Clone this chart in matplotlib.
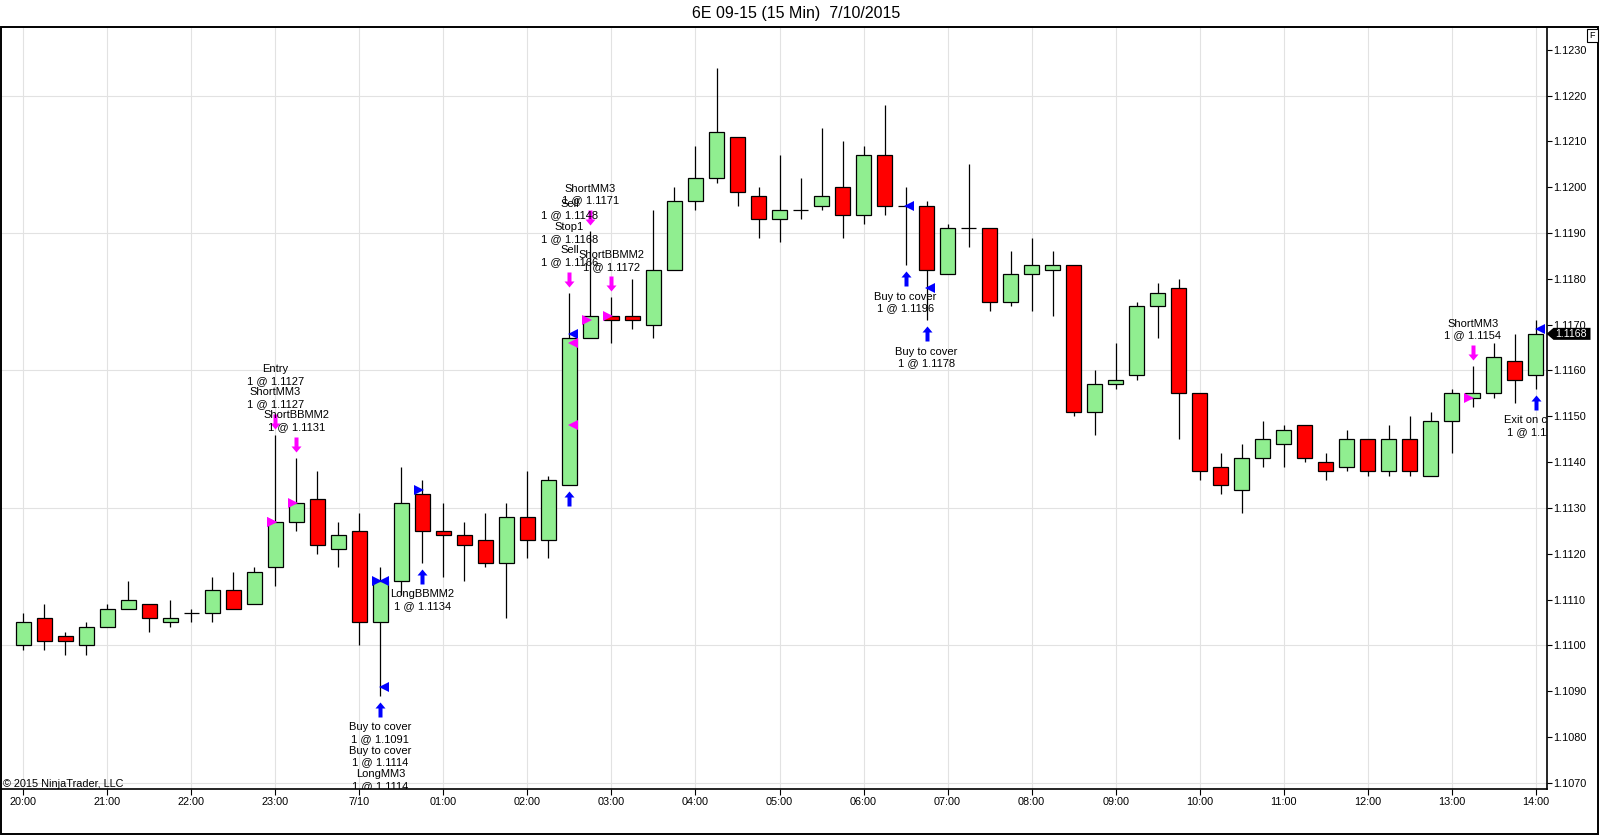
import numpy as np
import pandas as pd
import matplotlib
matplotlib.use('Agg')
import matplotlib.pyplot as plt
from matplotlib.markers import MarkerStyle
from matplotlib.path import Path
from matplotlib.patches import Rectangle, Polygon
from matplotlib import transforms as mtransforms

plt.rcParams['font.family'] = ['Liberation Sans', 'DejaVu Sans']

TITLE = '6E 09-15 (15 Min)  7/10/2015'

# 15 min bars, 7/9 20:00 .. 7/10 14:00
opens = [1.1100, 1.1106, 1.1102, 1.1100, 1.1104, 1.1108, 1.1109, 1.1105, 1.1107, 1.1107,
         1.1112, 1.1109, 1.1117, 1.1127, 1.1132, 1.1121, 1.1125, 1.1105, 1.1114, 1.1133,
         1.1125, 1.1124, 1.1123, 1.1118, 1.1128, 1.1123, 1.1135, 1.1167, 1.1172, 1.1172,
         1.1170, 1.1182, 1.1197, 1.1202, 1.1211, 1.1198, 1.1193, 1.1195, 1.1196, 1.1200,
         1.1194, 1.1207, 1.1196, 1.1196, 1.1181, 1.1191, 1.1191, 1.1175, 1.1181, 1.1182,
         1.1183, 1.1151, 1.1157, 1.1159, 1.1174, 1.1178, 1.1155, 1.1139, 1.1134, 1.1141,
         1.1144, 1.1148, 1.1140, 1.1139, 1.1145, 1.1138, 1.1145, 1.1137, 1.1149, 1.1154,
         1.1155, 1.1162, 1.1159]
highs = [1.1107, 1.1109, 1.1103, 1.1105, 1.1109, 1.1114, 1.1109, 1.1110, 1.1108, 1.1115,
         1.1116, 1.1117, 1.1146, 1.1141, 1.1138, 1.1127, 1.1129, 1.1117, 1.1139, 1.1136,
         1.1131, 1.1127, 1.1129, 1.1131, 1.1138, 1.1137, 1.1177, 1.11905, 1.1176, 1.1180,
         1.1195, 1.1200, 1.1209, 1.1226, 1.1211, 1.1200, 1.1207, 1.1202, 1.1213, 1.1210,
         1.1209, 1.1218, 1.1200, 1.1197, 1.1192, 1.1205, 1.1191, 1.1186, 1.1189, 1.1186,
         1.1183, 1.1160, 1.1166, 1.1175, 1.1179, 1.1180, 1.1155, 1.1142, 1.1144, 1.1149,
         1.1148, 1.1148, 1.1142, 1.1147, 1.1145, 1.1148, 1.1150, 1.1151, 1.1156, 1.1161,
         1.1166, 1.1168, 1.1171]
lows = [1.1099, 1.1099, 1.1098, 1.1098, 1.1104, 1.1108, 1.1103, 1.1104, 1.1105, 1.1105,
        1.1108, 1.1109, 1.1113, 1.1125, 1.1120, 1.1117, 1.1100, 1.1089, 1.1111, 1.1118,
        1.1115, 1.1114, 1.1117, 1.1106, 1.1119, 1.1119, 1.1135, 1.1167, 1.1166, 1.1169,
        1.1167, 1.1182, 1.1195, 1.1201, 1.1196, 1.1189, 1.1188, 1.1193, 1.1195, 1.1189,
        1.1192, 1.1194, 1.1183, 1.1171, 1.1181, 1.1187, 1.1173, 1.1174, 1.1173, 1.1172,
        1.1150, 1.1146, 1.1156, 1.1158, 1.1167, 1.1145, 1.1136, 1.1133, 1.1129, 1.1139,
        1.1139, 1.1140, 1.1136, 1.1138, 1.1137, 1.1137, 1.1137, 1.1137, 1.1142, 1.1152,
        1.1154, 1.1153, 1.1156]
closes = [1.1105, 1.1101, 1.1101, 1.1104, 1.1108, 1.1110, 1.1106, 1.1106, 1.1107, 1.1112,
          1.1108, 1.1116, 1.1127, 1.1131, 1.1122, 1.1124, 1.1105, 1.1114, 1.1131, 1.1125,
          1.1124, 1.1122, 1.1118, 1.1128, 1.1123, 1.1136, 1.1167, 1.1172, 1.1171, 1.1171,
          1.1182, 1.1197, 1.1202, 1.1212, 1.1199, 1.1193, 1.1195, 1.1195, 1.1198, 1.1194,
          1.1207, 1.1196, 1.1196, 1.1182, 1.1191, 1.1191, 1.1175, 1.1181, 1.1183, 1.1183,
          1.1151, 1.1157, 1.1158, 1.1174, 1.1177, 1.1155, 1.1138, 1.1135, 1.1141, 1.1145,
          1.1147, 1.1141, 1.1138, 1.1145, 1.1138, 1.1145, 1.1138, 1.1149, 1.1155, 1.1155,
          1.1163, 1.1158, 1.1168]

# executions (strategy fills), in the order they show on the chart
exec_bars = [12, 12, 13, 17, 17, 17, 19, 26, 26, 26, 27, 28, 42, 43, 69, 72]
exec_names = ['Entry', 'ShortMM3', 'ShortBBMM2', 'Buy to cover', 'Buy to cover', 'LongMM3',
              'LongBBMM2', 'Sell', 'Stop1', 'Sell', 'ShortMM3', 'ShortBBMM2',
              'Buy to cover', 'Buy to cover', 'ShortMM3', 'Exit on close']
exec_prices = [1.1127, 1.1127, 1.1131, 1.1091, 1.1114, 1.1114, 1.1134, 1.1148, 1.1168, 1.1166,
               1.1171, 1.1172, 1.1196, 1.1178, 1.1154, 1.1169]
exec_sides = ['sell', 'sell', 'sell', 'buy', 'buy', 'buy', 'buy', 'sell', 'buy', 'sell',
              'sell', 'sell', 'buy', 'buy', 'sell', 'buy']
exec_is_entry = [True, True, True, False, False, True, True, False, False, False,
                 True, True, False, False, True, False]

UP_COLOR = '#90ee90'
DOWN_COLOR = '#ff0000'
SIDE_COLOR = {'sell': '#ff00ff', 'buy': '#0000ff'}
GRID_COLOR = '#e2e2e2'
DPI = 100
LINE_H = 11.7   # px between label lines


def arrow_marker(pointing):
    '''fat arrow drawn in pixel units, tip 6px away from the bar high/low'''
    verts = [(0, 6), (5, 12), (2, 12), (2, 21), (-2, 21), (-2, 12), (-5, 12), (0, 6)]
    sign = 1 if pointing == 'down' else -1
    verts = [(vx, sign * vy) for vx, vy in verts]
    return MarkerStyle(Path(verts, closed=True))

ARROW_MS = 2 * 21 * 72.0 / DPI   # so that one path unit is one pixel


def draw_candles(ax, opens, highs, lows, closes, width=0.7):
    o = np.array(opens)
    c = np.array(closes)
    x = np.arange(len(c))
    colors = np.where(c >= o, UP_COLOR, DOWN_COLOR)
    ax.vlines(x, lows, highs, color='black', lw=0.9, zorder=2)
    ax.bar(x, np.abs(c - o), bottom=np.minimum(o, c), width=width, color=colors,
           edgecolor='black', linewidth=0.9, zorder=3)


def draw_executions(ax):
    bars_in_order = list(dict.fromkeys(exec_bars))
    for b in bars_in_order:
        idx = [k for k, eb in enumerate(exec_bars) if eb == b]
        sides = [exec_sides[k] for k in idx]
        # arrows
        if 'sell' in sides:
            ax.plot(b, highs[b], ls='none', marker=arrow_marker('down'), ms=ARROW_MS,
                    mew=0, color=SIDE_COLOR['sell'], zorder=5)
        if 'buy' in sides:
            ax.plot(b, lows[b], ls='none', marker=arrow_marker('up'), ms=ARROW_MS,
                    mew=0, color=SIDE_COLOR['buy'], zorder=5)
        # fill price triangles: entries from the left, exits from the right
        for k in idx:
            if exec_is_entry[k]:
                ax.plot(b - 0.18, exec_prices[k], ls='none', marker='>', ms=6.5, mew=0,
                        color=SIDE_COLOR[exec_sides[k]], zorder=5)
            else:
                ax.plot(b + 0.18, exec_prices[k], ls='none', marker='<', ms=6.5, mew=0,
                        color=SIDE_COLOR[exec_sides[k]], zorder=5)
        # text stack, on the side of the first fill of the bar
        lines = []
        for k in idx:
            lines += [exec_names[k], '1 @ {:.4f}'.format(exec_prices[k])]
        n = len(lines)
        for j, line in enumerate(lines):
            if sides[0] == 'sell':
                xy, dy = (b, highs[b]), 30.5 + (n - 1 - j) * LINE_H
            else:
                xy, dy = (b, lows[b]), -(31.5 + j * LINE_H)
            ax.annotate(line, xy=xy, xytext=(0, dy), textcoords='offset pixels',
                        ha='center', va='center', fontsize=8, color='black',
                        clip_on=True, zorder=6)


fig = plt.figure(figsize=(16, 8.35), dpi=DPI)
ax = fig.add_axes([1 / 1600, 45.7 / 835, 1545.5 / 1600, 762.4 / 835])

draw_candles(ax, opens, highs, lows, closes)
draw_executions(ax)

ax.set_xlim(-1.06, 72.51)
ax.set_ylim(1.106858, 1.12350)

# x axis: one tick per hour
bar_times = pd.date_range('2015-07-09 20:00', periods=len(closes), freq='15min')
hour_idx = [i for i, t in enumerate(bar_times) if t.minute == 0]
hour_lbl = ['{}/{}'.format(t.month, t.day) if t.hour == 0 else t.strftime('%H:%M')
            for t in bar_times[hour_idx]]
ax.set_xticks(hour_idx)
ax.set_xticklabels(hour_lbl)
ax.grid(axis='x', color=GRID_COLOR, lw=0.8)
ax.set_axisbelow(True)

# y axis on the right, labels every 10 pips, grid every 30 pips
price_ticks = np.arange(11070, 11231, 10) / 10000.0
ax.set_yticks(price_ticks)
ax.set_yticklabels(['{:.4f}'.format(p) for p in price_ticks])
for level in price_ticks[::3]:
    ax.axhline(level, color=GRID_COLOR, lw=0.8, zorder=0)
ax.yaxis.tick_right()

ax.tick_params(axis='x', direction='out', length=4, width=0.8, pad=1.5, labelsize=7.8)
ax.tick_params(axis='y', direction='out', length=3.6, width=0.8, pad=1.5, labelsize=7.8)
for side in ['left', 'top']:
    ax.spines[side].set_visible(False)
for side in ['right', 'bottom']:
    ax.spines[side].set_linewidth(1.2)

# last price flag on the right axis
flag_tr = mtransforms.Affine2D() + mtransforms.ScaledTranslation(
    1.0, closes[-1], mtransforms.blended_transform_factory(ax.transAxes, ax.transData))
ax.add_patch(Polygon([(0, 0), (7, 6), (44, 6), (44, -6), (7, -6)], closed=True,
                     transform=flag_tr, facecolor='black', edgecolor='none',
                     clip_on=False, zorder=10))
ax.annotate('{:.4f}'.format(closes[-1]), xy=(1.0, closes[-1]),
            xycoords=mtransforms.blended_transform_factory(ax.transAxes, ax.transData),
            xytext=(9, 0), textcoords='offset pixels', ha='left', va='center',
            fontsize=7.6, color='white', annotation_clip=False, zorder=11)

ax.text(0.0011, 0.0035, '\u00a9 2015 NinjaTrader, LLC', transform=ax.transAxes,
        ha='left', va='baseline', fontsize=7.8, color='black')

fig.text(796 / 1600, 1 - 13.3 / 835, TITLE, ha='center', va='center', fontsize=11.5)
fig.text(1592.5 / 1600, 1 - 35.5 / 835, 'F', ha='center', va='center', fontsize=6.5,
         bbox=dict(boxstyle='square,pad=0.25', fc='white', ec='black', lw=0.8))

# outer frame
fig.add_artist(Rectangle((1 / 1600, 1 / 835), 1596.7 / 1600, 806.7 / 835,
                         transform=fig.transFigure, fill=False, ec='black', lw=1.4))

fig.savefig('out.png', dpi=DPI)
